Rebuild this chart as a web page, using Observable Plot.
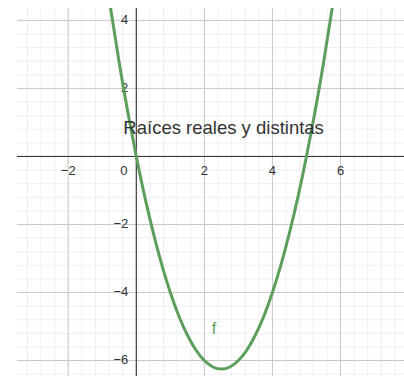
<!DOCTYPE html>
<html>
<head>
<meta charset="utf-8">
<script src="https://cdn.jsdelivr.net/npm/d3@7"></script>
<script src="https://cdn.jsdelivr.net/npm/@observablehq/plot@0.6"></script>
<style>
  html, body { margin: 0; padding: 0; background: #fff; }
  svg { display: block; }
</style>
</head>
<body>
<div id="chart"></div>
<script>
// Curve f (parabola through roots 0 and 5, vertex (2.5, -6.25))
const curveX = [-0.8, -0.5, -0.25, 0, 0.25, 0.5, 0.75, 1, 1.25, 1.5, 1.75, 2, 2.25, 2.5, 2.75, 3, 3.25, 3.5, 3.75, 4, 4.25, 4.5, 4.75, 5, 5.25, 5.5, 5.8];
const curveY = [4.64, 2.75, 1.31, 0, -1.19, -2.25, -3.19, -4, -4.69, -5.25, -5.69, -6, -6.19, -6.25, -6.19, -6, -5.69, -5.25, -4.69, -4, -3.19, -2.25, -1.19, 0, 1.31, 2.75, 4.64];

// Axis tick labels
const xTicks = [-2, 2, 4, 6];
const yTicks = [4, 2, -2, -4, -6];
const majorX = [-2, 0, 2, 4, 6];
const majorY = [4, 2, 0, -2, -4, -6];

// Annotations
const titleText = ["Raíces reales y distintas"];
const titlePos = [{x: -0.38, y: 0.65}];
const curveLabel = [{x: 2.28, y: -5.22, t: "f"}];

const curve = curveX.map((x, i) => ({x, y: curveY[i]}));
const minorX = d3.range(-3.2, 7.9, 0.4).map(v => +v.toFixed(2));
const minorY = d3.range(-6.4, 4.4, 0.4).map(v => +v.toFixed(2));

const fontFam = "'Liberation Sans', Arial, sans-serif";

const chart = Plot.plot({
  width: 404,
  height: 377,
  marginLeft: 17,
  marginTop: 8,
  marginRight: 0,
  marginBottom: 1,
  style: {background: "#fff", fontFamily: fontFam},
  x: {domain: [-3.49, 7.88], axis: null},
  y: {domain: [-6.47, 4.35], axis: null},
  marks: [
    Plot.ruleX(minorX, {stroke: "#efefef", strokeWidth: 1}),
    Plot.ruleY(minorY, {stroke: "#efefef", strokeWidth: 1}),
    Plot.ruleX(majorX, {stroke: "#c8c8c8", strokeWidth: 1}),
    Plot.ruleY(majorY, {stroke: "#c8c8c8", strokeWidth: 1}),
    Plot.ruleX([0], {stroke: "#2a2a2a", strokeWidth: 1}),
    Plot.ruleY([0], {stroke: "#2a2a2a", strokeWidth: 1}),
    Plot.text(xTicks, {x: d => d, y: 0, text: d => d < 0 ? "\u2212" + Math.abs(d) : String(d), dy: 14.5, textAnchor: "middle", fill: "#333", fontSize: 13, fontFamily: fontFam}),
    Plot.text(yTicks, {x: 0, y: d => d, text: d => d < 0 ? "\u2212" + Math.abs(d) : String(d), dx: -8, dy: -1, textAnchor: "end", fill: "#333", fontSize: 13, fontFamily: fontFam}),
    Plot.text(["0"], {x: 0, y: 0, text: d => d, dx: -12.5, dy: 14.5, textAnchor: "middle", fill: "#333", fontSize: 13, fontFamily: fontFam}),
    Plot.line(curve, {x: "x", y: "y", stroke: "#5c9e5c", strokeWidth: 3, curve: "natural", clip: true}),
    Plot.text(titleText, {x: () => titlePos[0].x, y: () => titlePos[0].y, text: d => d, textAnchor: "start", lineAnchor: "bottom", fill: "#333", fontSize: 18.5, fontFamily: fontFam}),
    Plot.text(curveLabel, {x: "x", y: "y", text: "t", textAnchor: "middle", lineAnchor: "bottom", fill: "#5c9e5c", fontSize: 16, fontFamily: fontFam})
  ]
});
document.getElementById("chart").appendChild(chart);
</script>
</body>
</html>
